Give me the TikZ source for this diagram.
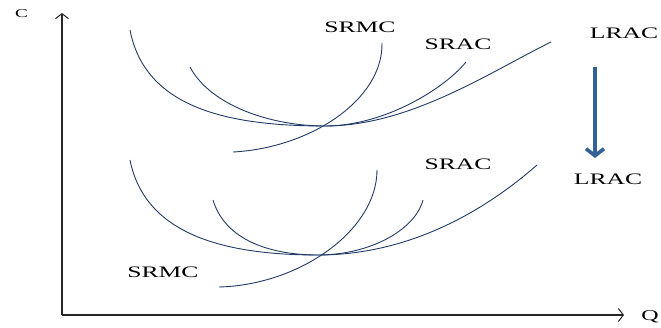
\documentclass[tikz,border=0pt]{standalone}
\usepackage{fontspec}
\usepackage{graphicx}
\setmainfont{Liberation Serif}
\usetikzlibrary{arrows.meta}
\definecolor{curvecol}{RGB}{32,58,104}
\definecolor{arrowcol}{RGB}{52,96,152}
\tikzset{
  curve/.style={draw=curvecol, line width=0.9pt},
  axis/.style={draw=black!85, line width=1.1pt, -{Straight Barb[length=5pt,width=13pt,line width=1pt]}},
  lab/.style={inner sep=0pt, font=\fontsize{16}{16}\selectfont},
  axlab/.style={inner sep=0pt},
  shiftarrow/.style={draw=arrowcol, line width=3.6pt, -{Straight Barb[length=7pt,width=18pt,line width=3.6pt]}}
}
\newcommand{\wide}[1]{\scalebox{1.6}[1]{#1}}
\begin{document}
\begin{tikzpicture}[x=1pt,y=-1pt]
\useasboundingbox (0,0) rectangle (661,328);
% axes
\coordinate (O) at (62,315);
\coordinate (Ytop) at (62,13);
\coordinate (Xend) at (624,315);
\draw[axis] (O) -- (Ytop);
\draw[axis] (O) -- (Xend);
\node[axlab, font=\fontsize{12}{12}\selectfont] (Clab) at (21.5,14) {\wide{C}};
\node[axlab, font=\fontsize{15}{15}\selectfont] (Qlab) at (650,317) {\wide{Q}};

% upper curves
\coordinate (uLa) at (130,30);
\coordinate (uMin) at (325,126);
\coordinate (uLb) at (551,42);
\coordinate (uSa) at (190,67);
\coordinate (uSb) at (466,62);
\coordinate (uMa) at (233,152);
\coordinate (uMb) at (382,43);
\draw[curve] (uLa) .. controls (145,108) and (228,126) .. (uMin)
  .. controls (410,126) and (490,72) .. (uLb);
\draw[curve] (uSa) .. controls (210,105) and (270,126) .. (uMin)
  .. controls (385,126) and (445,88) .. (uSb);
\draw[curve] (uMa) .. controls (310,148) and (383,100) .. (uMb);

\node[lab] (uSRMC) at (360,27) {\wide{SRMC}};
\node[lab] (uSRAC) at (458,44) {\wide{SRAC}};
\node[lab] (uLRAC) at (624,33) {\wide{LRAC}};

% shift arrow
\coordinate (arrA) at (595,67);
\coordinate (arrB) at (595,158);
\draw[shiftarrow] (arrA) -- (arrB);

% lower curves
\coordinate (lLa) at (130,160);
\coordinate (lMin) at (318,255);
\coordinate (lLb) at (537,165);
\coordinate (lSa) at (213,200);
\coordinate (lSb) at (423,200);
\coordinate (lMa) at (219,287);
\coordinate (lMb) at (377,170);
\draw[curve] (lLa) .. controls (145,235) and (225,255) .. (lMin)
  .. controls (405,255) and (480,215) .. (lLb);
\draw[curve] (lSa) .. controls (225,240) and (270,255) .. (lMin)
  .. controls (370,255) and (415,230) .. (lSb);
\draw[curve] (lMa) .. controls (300,285) and (377,230) .. (lMb);

\node[lab] (lSRAC) at (458,164) {\wide{SRAC}};
\node[lab] (lLRAC) at (608,179) {\wide{LRAC}};
\node[lab] (lSRMC) at (163,272) {\wide{SRMC}};
\end{tikzpicture}
\end{document}
